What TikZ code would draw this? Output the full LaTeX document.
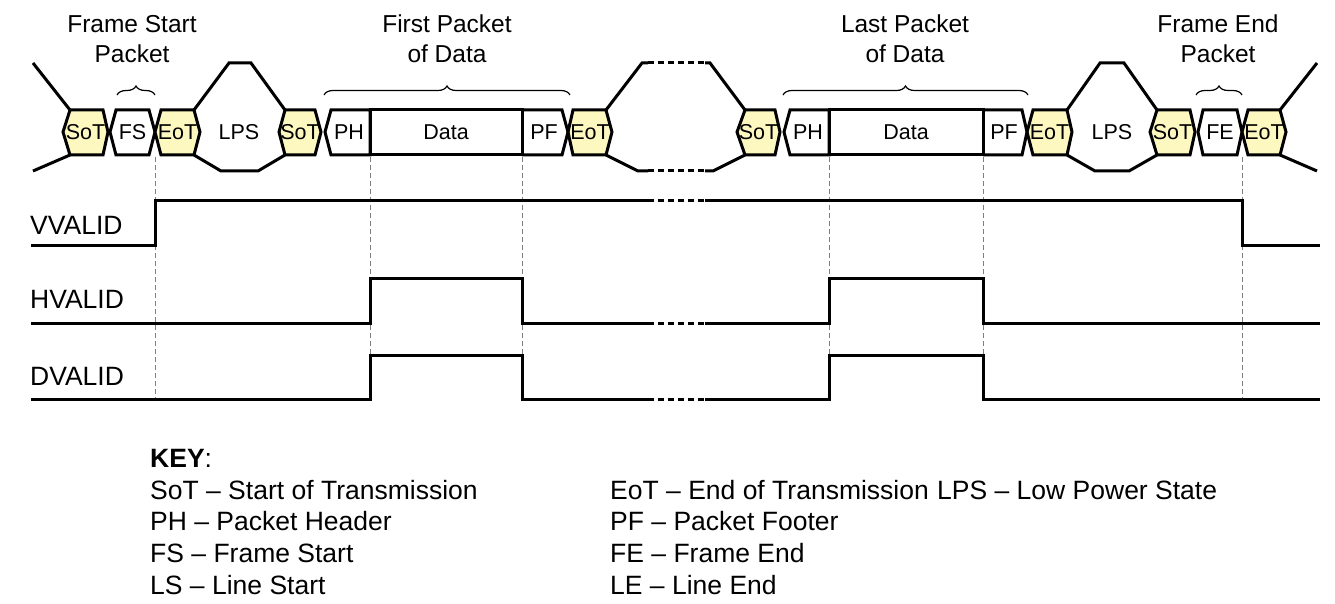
\documentclass[tikz,border=0pt]{standalone}
\usepackage{fontspec}
\setmainfont{Liberation Sans}
\usetikzlibrary{decorations.pathreplacing}
\definecolor{hy}{HTML}{FCF8C0}
\begin{document}
\begin{tikzpicture}[x=1pt,y=-1pt,
  wl/.style={line width=3pt,line join=miter},
  dl/.style={wl,dash pattern=on 6pt off 4pt},
  vd/.style={gray,line width=0.8pt,dash pattern=on 5pt off 3pt},
  ht/.style={font=\fontsize{21.5}{21.5}\selectfont,inner sep=0pt},
  lab/.style={font=\fontsize{24.5}{30}\selectfont,align=center,inner sep=0pt},
  key/.style={font=\fontsize{26.5}{26.5}\selectfont,anchor=west,inner sep=0pt},
  br/.style={line width=1.2pt,decorate,decoration={brace,amplitude=9pt}}]
\useasboundingbox (0,0) rectangle (1335,604);
\newcommand{\hexa}[6]{%
  \draw[wl,fill=#5] (#1,132)--(#2,110)--(#3,110)--(#4,132)--(#3,155)--(#2,155)--cycle;
  \node[ht] (#6) at ({(#1+#4)/2},132) {\strut};}
% hexes
\hexa{63}{70}{103}{108}{hy}{s1}\node[ht] at (s1) {SoT};
\hexa{110}{116}{149}{155}{white}{fs}\node[ht] at (fs) {FS};
\hexa{155}{161}{194}{200}{hy}{e1}\node[ht] at (e1) {EoT};
\hexa{279}{285}{315}{321}{hy}{s2}\node[ht] at (s2) {SoT};
\hexa{568}{573}{606}{612}{hy}{e2}\node[ht] at (e2) {EoT};
\hexa{737}{745}{775}{780}{hy}{s3}\node[ht] at (s3) {SoT};
\hexa{1027}{1033}{1067}{1072}{hy}{e3}\node[ht] at (e3) {EoT};
\hexa{1150}{1157}{1190}{1195}{hy}{s4}\node[ht] at (s4) {SoT};
\hexa{1198}{1203}{1237}{1242}{white}{fe}\node[ht] at (fe) {FE};
\hexa{1242}{1248}{1280}{1286}{hy}{e4}\node[ht] at (e4) {EoT};
% packets
\draw[wl] (325,132)--(331,110)--(370,110)--(370,155)--(331,155)--cycle;
\draw[wl] (370,110) rectangle (522,155);
\draw[wl] (522,110)--(562,110)--(568,132)--(562,155)--(522,155);
\node[ht] (ph1) at (349,132) {PH};
\node[ht] (d1) at (446,132) {Data};
\node[ht] (pf1) at (544,132) {PF};
\draw[wl] (784,132)--(790,110)--(829,110)--(829,155)--(790,155)--cycle;
\draw[wl] (829,110) rectangle (983,155);
\draw[wl] (983,110)--(1022,110)--(1027,132)--(1022,155)--(983,155);
\node[ht] (ph2) at (808,132) {PH};
\node[ht] (d2) at (906,132) {Data};
\node[ht] (pf2) at (1004,132) {PF};
% LPS and outer lines
\draw[wl] (33,63)--(70,110); \draw[wl] (33,171)--(70,155);
\draw[wl] (194,110)--(229,63)--(251,63)--(285,110);
\draw[wl] (194,155)--(221,171)--(258,171)--(285,155);
\node[ht] (lps1) at (239,132) {LPS};
\draw[wl] (606,110)--(642,63)--(648,63); \draw[dl] (648,63)--(705,63); \draw[wl] (705,63)--(710,63)--(745,110);
\draw[wl] (606,155)--(638,171)--(648,171); \draw[dl] (648,171)--(705,171); \draw[wl] (705,171)--(713,171)--(745,155);
\draw[wl] (1067,110)--(1100,63)--(1124,63)--(1157,110);
\draw[wl] (1067,155)--(1095,171)--(1129,171)--(1157,155);
\node[ht] (lps2) at (1112,132) {LPS};
\draw[wl] (1280,110)--(1317,63); \draw[wl] (1280,155)--(1317,171);
% braces
\draw[br] (117,95)--(155,95);
\draw[br] (324,95)--(570,95);
\draw[br] (783,95)--(1028,95);
\draw[br] (1196,95)--(1242,95);
\node[lab] (t1) at (132,39) {Frame Start\\Packet};
\node[lab] (t2) at (447,39) {First Packet\\of Data};
\node[lab] (t3) at (905,39) {Last Packet\\of Data};
\node[lab] (t4) at (1218,39) {Frame End\\Packet};
% vertical dashed
\foreach \x in {155,370,522,829,983,1242} \draw[vd] (\x,157)--(\x,400);
% signals
\node[key] (vv) at (30,225) {VVALID};
\node[key] (hv) at (30,299) {HVALID};
\node[key] (dv) at (30,376) {DVALID};
\draw[wl] (31,245)--(155,245)--(155,201)--(648,201); \draw[dl] (648,201)--(705,201);
\draw[wl] (705,201)--(1242,201)--(1242,245)--(1320,245);
\foreach \y/\h in {323/278,399/355}{
  \draw[wl] (31,\y)--(370,\y)--(370,\h)--(522,\h)--(522,\y)--(648,\y);
  \draw[dl] (648,\y)--(705,\y);
  \draw[wl] (705,\y)--(829,\y)--(829,\h)--(983,\h)--(983,\y)--(1320,\y);}
% key
\node[key] (k0) at (150,458) {\textbf{KEY}:};
\node[key] (k1) at (150,490) {SoT – Start of Transmission};
\node[key] (k2) at (150,521) {PH – Packet Header};
\node[key] (k3) at (150,553) {FS – Frame Start};
\node[key] (k4) at (150,585) {LS – Line Start};
\node[key] (k5) at (610,490) {EoT – End of Transmission};
\node[key] (k6) at (610,521) {PF – Packet Footer};
\node[key] (k7) at (610,553) {FE – Frame End};
\node[key] (k8) at (610,585) {LE – Line End};
\node[key] (k9) at (937,490) {LPS – Low Power State};
\end{tikzpicture}
\end{document}
